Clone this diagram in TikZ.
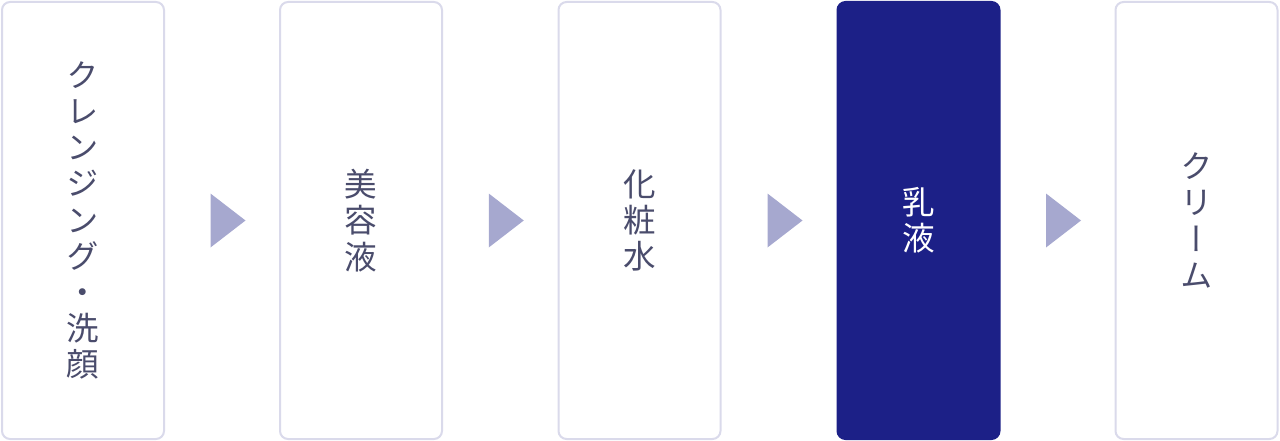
\documentclass[tikz,border=0pt]{standalone}
\usepackage{fontspec}
\newfontfamily\cjkv[RawFeature=+vert]{Noto Sans CJK JP}
\usetikzlibrary{calc}
\definecolor{boxline}{HTML}{DADAEB}
\definecolor{txt}{HTML}{4A4C6C}
\definecolor{navy}{HTML}{1C2087}
\definecolor{tri}{HTML}{A6A8CF}
\tikzset{
  stepbox/.style={draw=boxline, line width=2pt, rounded corners=8pt, fill=white,
    minimum width=162pt, minimum height=437pt, inner sep=0pt, text=txt,
    align=center, font=\cjkv\fontsize{32.5}{36.2}\selectfont},
  activebox/.style={stepbox, draw=navy, fill=navy, text=white},
  tri/.style={fill=tri, draw=none}
}
\begin{document}
\begin{tikzpicture}[x=1pt,y=-1pt]
\useasboundingbox (0,0) rectangle (1280,441);
\node[stepbox] (b1) at (83,220.5) {ク\\レ\\ン\\ジ\\ン\\グ\\・\\洗\\顔};
\node[stepbox] (b2) at (361,220.5) {美\\容\\液};
\node[stepbox] (b3) at (639.5,220.5) {化\\粧\\水};
\node[activebox] (b4) at (918.5,220.5) {乳\\液};
\node[stepbox] (b5) at (1196.5,220.5) {ク\\リ\\ー\\ム};
\foreach \a/\b in {b1/b2,b2/b3,b3/b4,b4/b5}{
  \coordinate (m\a) at ($(\a.east)!0.5!(\b.west)$);
  \fill[tri] ($(m\a)+(-11.5,-27)$) -- ($(m\a)+(23.5,0)$) -- ($(m\a)+(-11.5,27)$) -- cycle;
}
\end{tikzpicture}
\end{document}
